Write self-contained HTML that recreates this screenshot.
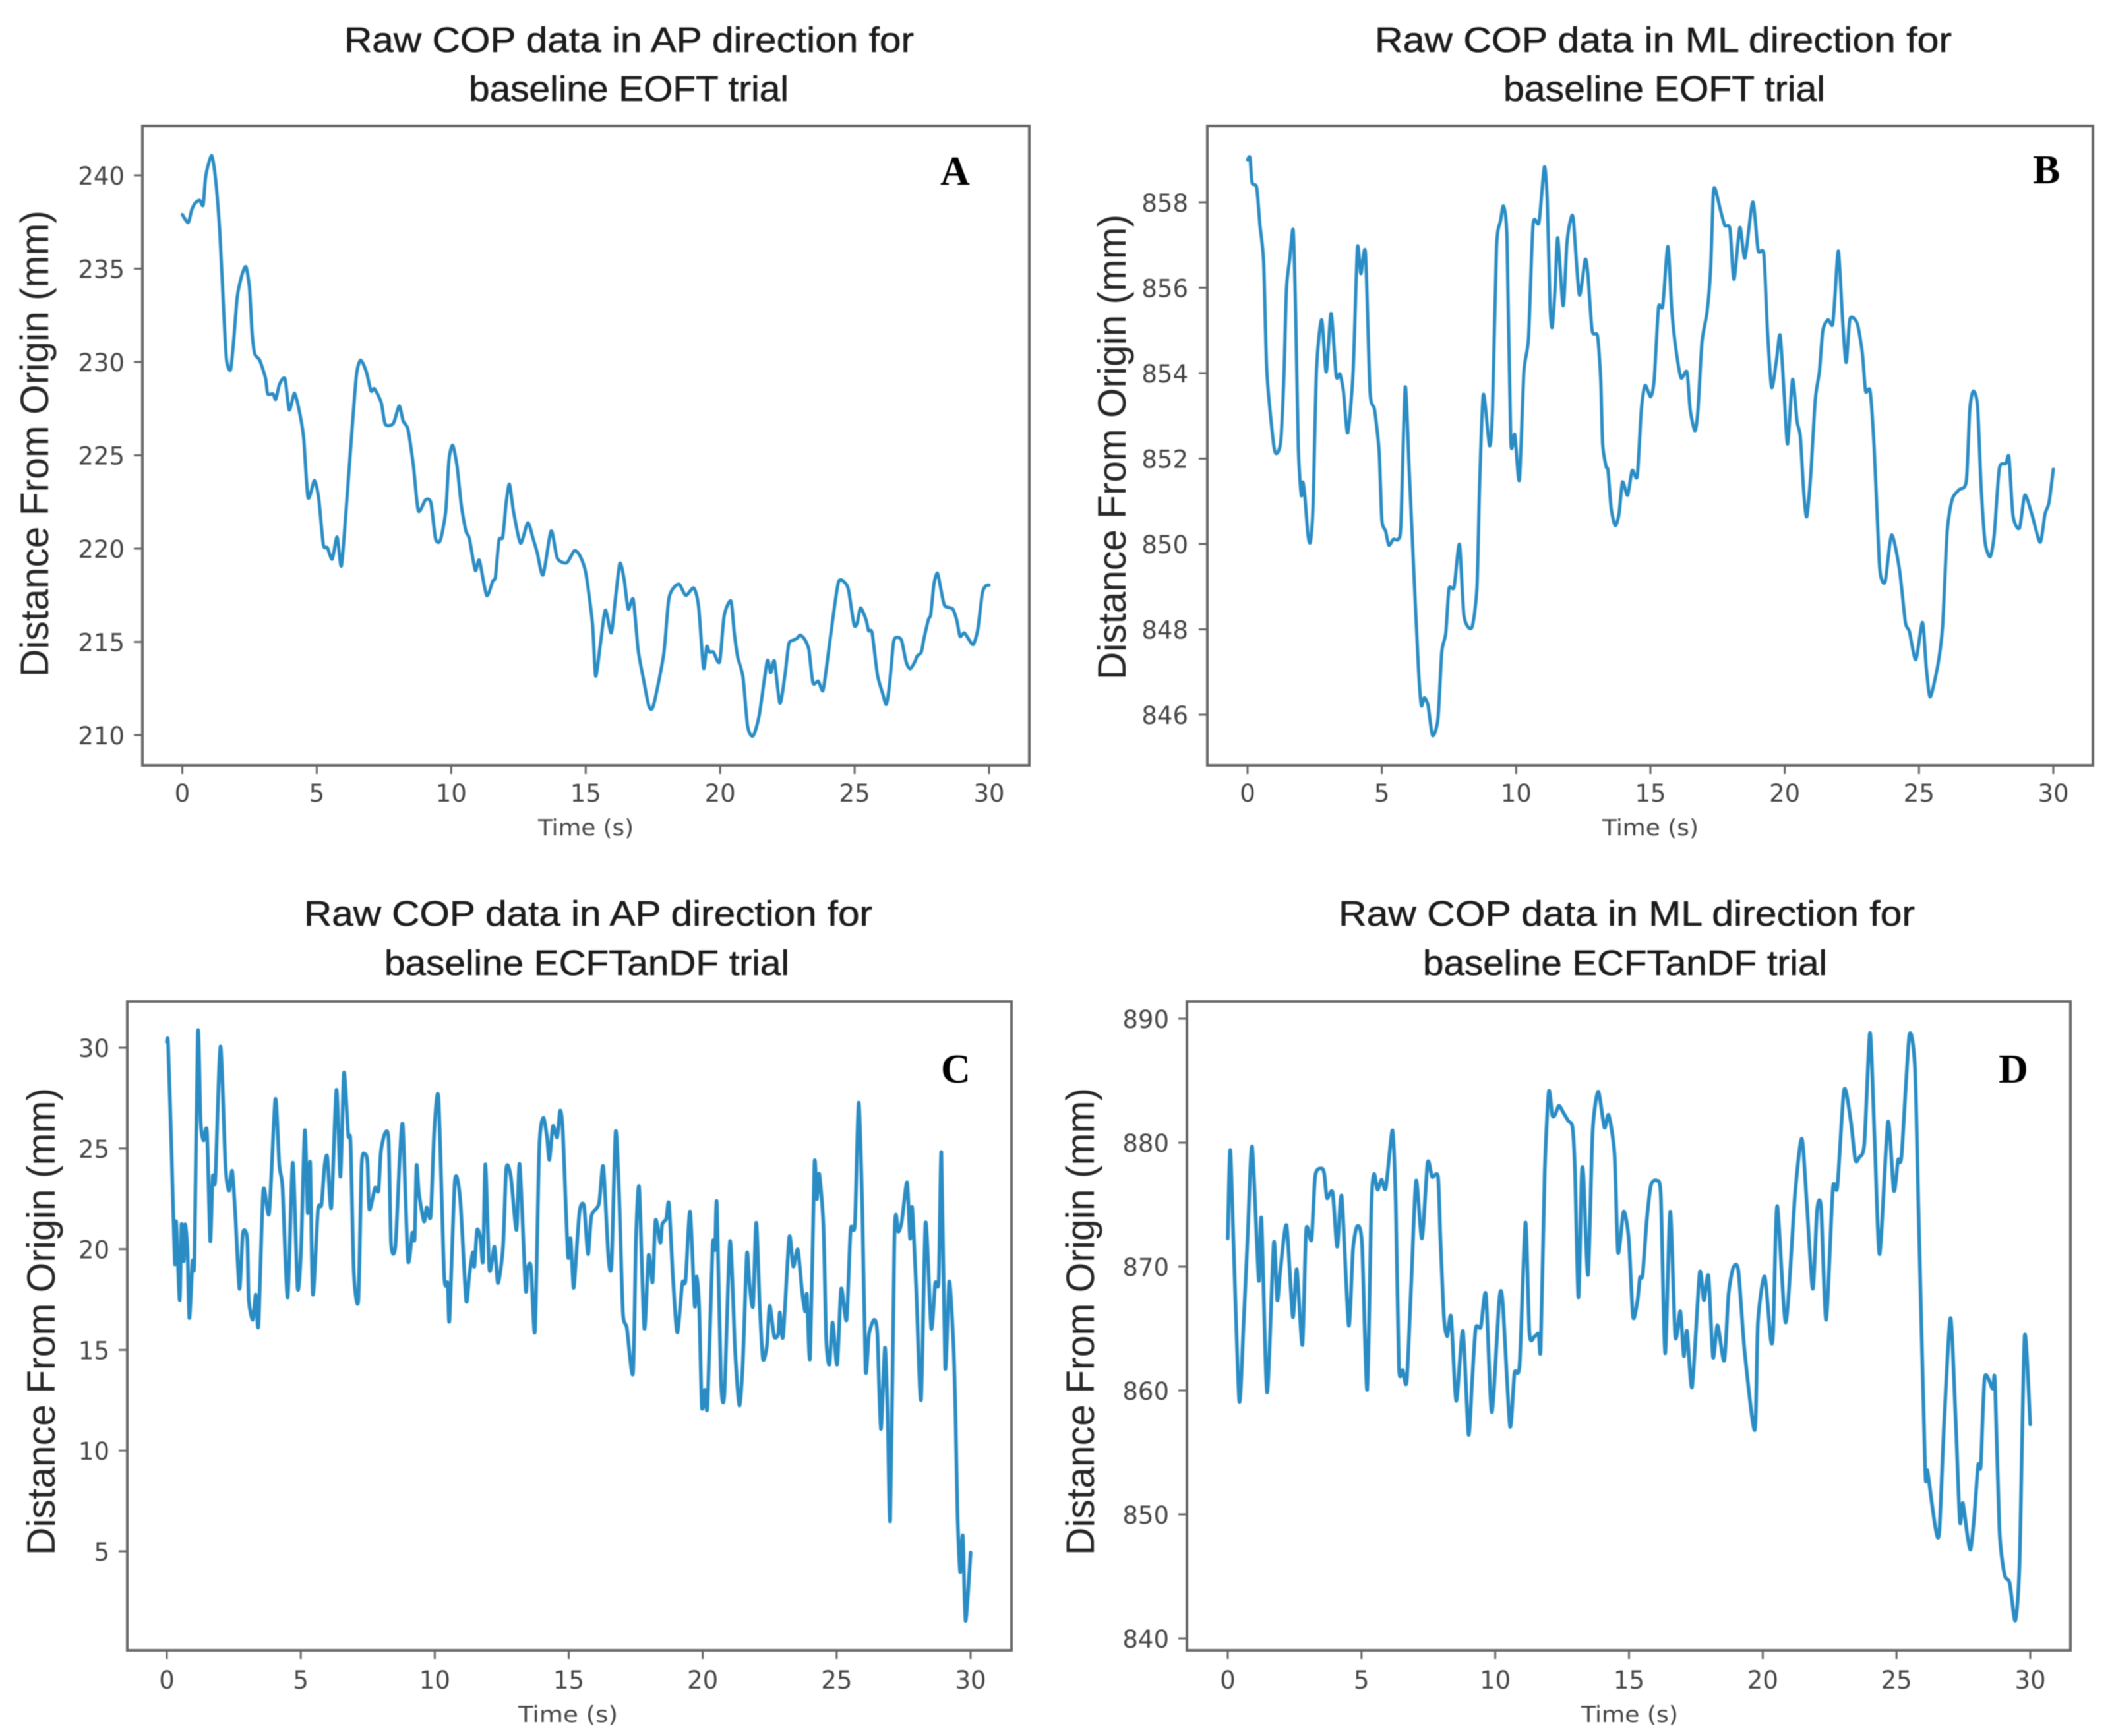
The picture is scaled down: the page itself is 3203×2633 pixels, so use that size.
<!DOCTYPE html>
<html lang="en">
<head>
<meta charset="utf-8">
<title>Raw COP data figure</title>
<style>
html,body{margin:0;padding:0;background:#fff;}
svg{display:block;filter:blur(0.9px);}
.title{font-family:"Liberation Sans",sans-serif;font-size:54px;fill:#1c1c1c;stroke:#1c1c1c;stroke-width:0.6px;}
.ylab{font-family:"Liberation Sans",sans-serif;font-size:60px;fill:#262626;}
.xlab{font-family:"DejaVu Sans",sans-serif;font-size:34px;fill:#444;}
.tick{font-family:"DejaVu Sans",sans-serif;font-size:37px;fill:#444;}
.letter{font-family:"Liberation Serif",serif;font-size:62px;font-weight:bold;fill:#000;}
</style>
</head>
<body>
<svg id="figure" xmlns="http://www.w3.org/2000/svg" width="3203" height="2633" viewBox="0 0 3203 2633">
<rect x="0" y="0" width="3203" height="2633" fill="#ffffff"/>

<g>
<text class="title" x="522" y="79" textLength="864" lengthAdjust="spacingAndGlyphs">Raw COP data in AP direction for</text>
<text class="title" x="711" y="153" textLength="485" lengthAdjust="spacingAndGlyphs">baseline EOFT trial</text>
<text class="ylab" transform="translate(73,1027) rotate(-90)" textLength="708" lengthAdjust="spacingAndGlyphs">Distance From Origin (mm)</text>
<text class="xlab" x="816" y="1267" textLength="145" lengthAdjust="spacingAndGlyphs">Time (s)</text>
<text class="letter" x="1426" y="280">A</text>
</g>

<g>
<text class="title" x="2085" y="79" textLength="875" lengthAdjust="spacingAndGlyphs">Raw COP data in ML direction for</text>
<text class="title" x="2280" y="153" textLength="488" lengthAdjust="spacingAndGlyphs">baseline EOFT trial</text>
<text class="ylab" transform="translate(1707,1031) rotate(-90)" textLength="706" lengthAdjust="spacingAndGlyphs">Distance From Origin (mm)</text>
<text class="xlab" x="2430" y="1267" textLength="146" lengthAdjust="spacingAndGlyphs">Time (s)</text>
<text class="letter" x="3083" y="278">B</text>
</g>

<g>
<text class="title" x="461" y="1404" textLength="862" lengthAdjust="spacingAndGlyphs">Raw COP data in AP direction for</text>
<text class="title" x="583" y="1479" textLength="614" lengthAdjust="spacingAndGlyphs">baseline ECFTanDF trial</text>
<text class="ylab" transform="translate(83,2359) rotate(-90)" textLength="709" lengthAdjust="spacingAndGlyphs">Distance From Origin (mm)</text>
<text class="xlab" x="786" y="2612" textLength="151" lengthAdjust="spacingAndGlyphs">Time (s)</text>
<text class="letter" x="1427" y="1642">C</text>
</g>

<g>
<text class="title" x="2030" y="1404" textLength="874" lengthAdjust="spacingAndGlyphs">Raw COP data in ML direction for</text>
<text class="title" x="2158" y="1479" textLength="613" lengthAdjust="spacingAndGlyphs">baseline ECFTanDF trial</text>
<text class="ylab" transform="translate(1659,2359) rotate(-90)" textLength="709" lengthAdjust="spacingAndGlyphs">Distance From Origin (mm)</text>
<text class="xlab" x="2398" y="2612" textLength="147" lengthAdjust="spacingAndGlyphs">Time (s)</text>
<text class="letter" x="3031" y="1642">D</text>
</g>
</svg>

<script>
var xTickValues = [0,5,10,15,20,25,30];
var yTicksA = [210,215,220,225,230,235,240];
var yTicksB = [846,848,850,852,854,856,858];
var yTicksC = [5,10,15,20,25,30];
var yTicksD = [840,850,860,870,880,890];

var timeA = [0,.215,.345,.475,.645,.775,.875,1.095,1.245,1.395,1.545,1.645,1.795,1.915,2.045,2.215,2.365,2.495,2.595,2.695,2.875,3.095,3.175,3.375,3.475,3.615,3.815,3.975,4.175,4.375,4.515,4.675,4.915,5.075,5.245,5.395,5.575,5.755,5.915,6.095,6.295,6.475,6.635,6.845,7.015,7.145,7.395,7.545,7.845,8.065,8.215,8.395,8.595,8.775,9.045,9.245,9.415,9.595,9.795,9.915,10.055,10.215,10.375,10.545,10.675,10.895,11.045,11.315,11.545,11.645,11.775,11.915,12.045,12.165,12.315,12.575,12.845,13.045,13.195,13.415,13.715,13.945,14.295,14.575,14.775,15.0,15.25,15.37,15.55,15.73,15.95,16.1,16.27,16.43,16.58,16.77,16.95,17.15,17.35,17.52,17.9,18.1,18.45,18.72,19.02,19.2,19.38,19.5,19.6,19.75,19.98,20.15,20.4,20.52,20.65,20.85,21.02,21.22,21.45,21.75,21.88,22.02,22.22,22.4,22.55,22.7,22.85,22.98,23.15,23.3,23.45,23.65,23.82,23.95,24.15,24.4,24.65,24.78,24.98,25.1,25.22,25.42,25.52,25.65,25.85,26.05,26.18,26.3,26.45,26.6,26.75,26.92,27.07,27.25,27.32,27.48,27.58,27.75,27.83,27.95,28.08,28.22,28.35,28.65,28.8,28.92,29.08,29.28,29.42,29.58,29.75,29.88,30];
var copA = [237.9,237.47,238.13,238.51,238.66,238.41,240.0,241.06,239.68,236.92,232.54,230.1,229.59,231.24,233.51,234.65,235.1,234.0,231.57,230.43,230.1,229.13,228.3,228.29,228.0,228.8,229.1,227.43,228.32,227.19,225.89,222.73,223.65,222.64,220.21,220.05,219.43,220.62,219.07,222.16,226.05,229.3,230.1,229.46,228.45,228.56,227.83,226.67,226.7,227.64,226.83,226.37,224.43,222.03,222.61,222.45,220.53,220.45,222.0,224.75,225.53,224.43,222.32,220.94,220.53,218.83,219.37,217.49,218.26,218.5,220.45,220.62,222.48,223.45,222.0,220.29,221.38,220.53,219.8,218.59,220.94,219.48,219.24,219.88,219.64,218.71,216.03,213.17,214.93,216.7,215.48,217.25,219.2,218.34,216.76,217.27,214.57,212.99,211.55,211.59,214.33,217.37,218.1,217.49,217.88,216.88,213.6,214.75,214.45,214.45,213.94,216.4,217.19,215.54,214.2,213.11,210.49,209.95,211.04,213.96,213.35,213.96,211.71,213.11,214.87,215.08,215.18,215.36,215.12,214.57,212.8,212.89,212.38,213.6,215.79,218.2,218.16,217.73,215.91,216.03,216.82,216.21,215.6,215.48,213.23,212.2,211.65,212.74,215.0,215.24,215.06,213.9,213.56,213.96,214.23,214.45,215.18,216.21,216.46,218.1,218.68,217.73,216.94,216.76,216.15,215.3,215.48,215.06,214.87,215.66,217.61,218.0,218.04];

var timeB = [0,.09,.17,.34,.46,.6,.72,.97,1.09,1.24,1.36,1.45,1.57,1.7,1.79,1.89,2.0,2.06,2.13,2.25,2.34,2.44,2.57,2.76,2.93,3.11,3.3,3.44,3.57,3.73,3.93,4.09,4.22,4.39,4.56,4.73,4.9,5.0,5.14,5.26,5.43,5.61,5.71,5.87,6.02,6.16,6.36,6.47,6.58,6.72,6.89,7.09,7.23,7.38,7.5,7.69,7.89,8.06,8.35,8.54,8.64,8.78,9.01,9.12,9.27,9.42,9.53,9.66,9.8,9.95,10.12,10.29,10.46,10.63,10.85,11.05,11.16,11.26,11.34,11.45,11.55,11.75,11.89,12.02,12.13,12.35,12.57,12.67,12.83,13.03,13.15,13.22,13.35,13.42,13.54,13.69,13.83,13.96,14.15,14.32,14.51,14.66,14.8,15.01,15.14,15.3,15.46,15.65,15.8,15.95,16.14,16.36,16.48,16.66,16.77,16.92,17.11,17.24,17.34,17.42,17.6,17.77,17.96,18.11,18.33,18.52,18.81,19.01,19.22,19.35,19.51,19.69,19.83,19.98,20.11,20.29,20.46,20.58,20.71,20.82,20.97,21.14,21.29,21.42,21.61,21.78,21.87,22.0,22.16,22.29,22.43,22.7,22.89,23.01,23.18,23.33,23.52,23.62,23.75,23.98,24.27,24.49,24.64,24.88,25.13,25.27,25.42,25.71,25.88,26.05,26.24,26.49,26.76,26.89,27.02,27.18,27.31,27.46,27.65,27.8,27.99,28.23,28.35,28.5,28.74,28.94,29.2,29.51,29.69,29.84,30];
var copB = [859.0,859.05,858.46,858.35,857.48,856.6,854.03,852.34,852.12,852.43,854.03,855.98,856.68,857.35,855.44,852.25,851.14,851.45,851.14,850.21,850.05,850.92,854.11,855.25,854.03,855.4,853.94,853.98,853.58,852.6,854.03,856.93,856.33,856.82,853.58,853.14,852.16,850.57,850.3,849.97,850.11,850.11,850.48,853.67,851.72,849.77,847.11,846.22,846.4,846.22,845.51,845.91,847.46,847.91,848.95,848.99,849.99,848.31,848.04,848.97,851.37,853.5,852.3,853.14,856.95,857.57,857.91,857.13,852.43,852.56,851.5,854.03,854.82,857.48,857.53,858.83,858.01,855.62,855.07,855.98,857.17,855.58,857.04,857.57,857.6,855.84,856.66,856.33,855.0,854.87,853.85,852.34,851.81,851.72,850.83,850.43,850.7,851.45,851.14,851.72,851.59,853.14,853.71,853.45,853.85,855.53,855.58,856.97,855.44,854.56,853.89,854.03,853.14,852.65,853.14,854.73,855.44,856.42,858.19,858.3,857.84,857.46,857.38,856.2,857.41,856.7,858.01,856.88,856.79,855.09,853.67,854.29,854.89,853.49,852.34,853.85,852.87,852.52,851.19,850.64,851.63,853.4,854.03,855.0,855.25,855.13,855.8,856.86,855.18,854.25,855.27,855.16,854.47,853.58,853.58,852.25,849.59,849.15,849.15,850.21,849.41,848.17,847.95,847.29,848.16,847.11,846.42,847.2,848.09,850.3,851.05,851.27,851.47,853.14,853.58,853.23,851.37,850.04,849.7,850.21,851.76,851.88,852.03,850.66,850.37,851.14,850.7,850.04,850.7,850.97,851.75];

var timeC = [0,.05,.18,.3,.35,.48,.55,.63,.68,.77,.84,.96,1.03,1.16,1.26,1.37,1.5,1.62,1.71,1.81,2.0,2.19,2.32,2.44,2.56,2.71,2.84,3.0,3.06,3.21,3.32,3.42,3.6,3.82,4.05,4.2,4.32,4.51,4.7,4.88,5.01,5.15,5.26,5.35,5.45,5.64,5.77,5.89,5.99,6.14,6.33,6.48,6.61,6.77,6.86,6.98,7.15,7.27,7.4,7.49,7.56,7.77,7.9,7.99,8.15,8.28,8.37,8.53,8.69,8.81,9.0,9.16,9.25,9.32,9.41,9.6,9.7,9.85,9.98,10.14,10.35,10.48,10.55,10.75,10.95,11.17,11.29,11.42,11.48,11.58,11.71,11.8,11.89,12.04,12.23,12.36,12.55,12.67,12.84,13.05,13.17,13.39,13.46,13.59,13.74,13.9,14.05,14.19,14.28,14.41,14.57,14.68,14.78,14.97,15.07,15.18,15.28,15.41,15.57,15.72,15.85,16.13,16.29,16.48,16.6,16.75,16.88,17.02,17.17,17.4,17.51,17.63,17.82,17.98,18.13,18.24,18.42,18.49,18.64,18.74,18.89,19.05,19.24,19.36,19.53,19.7,19.78,19.87,19.97,20.08,20.18,20.37,20.46,20.53,20.68,20.81,21.02,21.21,21.37,21.5,21.65,21.75,21.88,22.0,22.13,22.25,22.4,22.5,22.67,22.82,22.88,23.0,23.23,23.38,23.55,23.7,23.82,23.89,24.01,24.17,24.26,24.35,24.51,24.61,24.73,24.85,25.02,25.17,25.37,25.52,25.68,25.82,25.96,26.08,26.21,26.4,26.52,26.65,26.8,26.9,27.0,27.15,27.21,27.3,27.43,27.63,27.74,27.82,27.97,28.15,28.32,28.53,28.68,28.81,28.91,29.05,29.2,29.35,29.44,29.51,29.61,29.71,29.81,30];
var copC = [30.28,30.14,24.7,19.28,21.37,17.47,21.23,19.4,21.23,20.0,16.58,19.4,19.48,30.78,26.38,25.4,25.82,20.4,23.6,23.46,30.06,24.15,22.9,23.88,21.65,18.03,20.8,20.53,17.47,16.5,17.75,16.22,22.9,21.79,27.44,24.15,23.04,17.61,24.29,18.08,19.98,25.9,21.79,24.29,17.75,21.93,22.2,24.15,24.57,22.07,27.91,23.6,28.75,25.68,25.27,18.86,17.47,24.15,24.71,24.29,21.98,23.04,22.9,24.85,25.77,25.4,20.26,20.12,24.43,26.1,19.48,20.81,20.53,24.15,22.76,21.37,22.07,21.65,25.82,27.49,18.73,18.31,16.5,23.37,22.48,17.47,18.73,19.84,19.14,20.95,20.53,19.42,24.21,19.0,20.12,18.31,20.12,24.01,23.6,20.95,24.21,18.03,19.0,19.14,15.94,24.99,26.52,25.55,24.43,26.1,25.55,26.88,25.82,19.7,20.53,18.08,19.7,21.93,22.15,19.75,21.65,22.26,24.1,19.64,19.28,25.82,22.76,16.91,16.08,13.85,20.53,23.04,16.08,19.7,18.36,21.43,20.31,21.23,21.51,22.26,18.59,15.86,18.31,18.45,21.87,17.19,18.64,17.05,12.18,13.02,12.24,20.12,19.98,22.26,13.57,12.8,20.4,14.97,12.24,14.41,19.76,18.25,17.19,21.31,17.19,14.55,15.25,17.19,15.66,15.8,16.86,15.66,20.59,19.14,19.98,18.03,16.91,17.75,14.63,24.21,22.48,23.74,21.09,15.52,14.27,16.36,14.27,18.03,16.5,20.95,21.23,27.27,21.93,13.99,15.8,16.5,15.8,11.07,15.11,11.9,6.6,19.98,21.7,20.87,21.37,23.32,20.53,22.07,18.03,12.52,21.31,16.08,18.31,18.45,24.79,14.13,18.39,15.52,11.63,6.89,3.97,5.78,1.55,4.94];

var timeD = [0,.09,.21,.43,.59,.74,.91,1.16,1.26,1.47,1.72,1.85,1.97,2.2,2.43,2.58,2.79,2.93,3.13,3.27,3.51,3.61,3.71,3.92,4.09,4.26,4.52,4.68,4.84,5.02,5.21,5.37,5.47,5.6,5.75,5.91,6.16,6.28,6.4,6.54,6.69,6.86,7.04,7.26,7.47,7.64,7.86,7.95,8.08,8.2,8.35,8.54,8.79,9.0,9.14,9.27,9.46,9.65,9.87,10.15,10.28,10.55,10.72,10.91,11.13,11.28,11.47,11.62,11.7,11.85,12.0,12.13,12.23,12.38,12.54,12.73,12.89,12.98,13.11,13.23,13.3,13.47,13.64,13.85,14.08,14.24,14.46,14.59,14.8,14.99,15.15,15.32,15.41,15.51,15.66,15.82,16.04,16.19,16.35,16.54,16.73,16.92,17.05,17.17,17.36,17.64,17.8,17.97,18.14,18.31,18.56,18.72,18.9,19.09,19.32,19.7,19.82,20.07,20.3,20.39,20.54,20.86,21.21,21.46,21.65,21.87,22.03,22.18,22.37,22.62,22.79,23.04,23.29,23.46,23.61,23.8,24.01,24.18,24.37,24.68,24.9,25.06,25.19,25.48,25.69,25.82,26.07,26.16,26.45,26.6,26.79,27.02,27.21,27.37,27.48,27.65,27.77,27.9,28.05,28.15,28.3,28.59,28.68,28.85,29.04,29.23,29.44,29.6,29.79,30];
var copD = [872.27,879.41,872.27,859.16,865.26,872.27,879.68,868.88,873.85,859.84,871.91,867.3,869.78,873.31,865.94,869.78,863.68,872.95,872.18,877.33,877.92,877.47,875.52,875.98,871.59,875.66,865.26,871.37,873.26,871.82,860.06,874.98,877.47,876.2,877.02,876.34,880.99,874.98,861.87,861.65,860.74,868.65,876.93,872.27,878.37,877.24,877.24,872.27,865.94,864.36,865.94,859.16,864.81,856.45,860.97,865.04,865.13,867.75,858.25,867.3,867.07,857.13,861.42,862.1,873.54,864.58,864.36,864.58,863.45,877.69,884.11,882.22,882.22,882.98,882.44,881.76,881.22,877.69,867.52,877.24,877.24,869.33,880.86,884.11,881.22,882.22,879.05,871.14,874.44,872.27,865.94,867.3,869.1,869.33,873.63,876.56,876.93,875.66,863.0,874.44,864.36,866.39,862.78,864.81,860.29,869.47,867.3,869.24,862.69,865.26,862.41,867.75,869.92,869.65,863.23,856.81,865.49,869.2,864.13,864.81,874.89,865.49,875.89,880.32,874.98,868.2,874.53,874.76,865.71,876.25,876.43,884.25,881.76,878.6,878.82,879.95,888.86,880.41,871.0,881.67,876.11,878.6,878.96,888.63,886.06,874.98,853.73,853.51,849.0,848.63,857.8,865.85,857.8,849.44,850.93,848.3,847.18,849.67,853.96,853.96,861.06,860.15,860.74,848.76,845.14,844.47,841.44,846.05,864.36,857.26];

var NS = 'http://www.w3.org/2000/svg';
var fig = document.getElementById('figure');

function make(tag, attrs, parent) {
  var el = document.createElementNS(NS, tag);
  for (var k in attrs) { el.setAttribute(k, attrs[k]); }
  parent.appendChild(el);
  return el;
}

function smoothPath(xs, ys) {
  var d = 'M' + xs[0].toFixed(1) + ' ' + ys[0].toFixed(1);
  var n = xs.length;
  var k = 0.12;
  for (var i = 0; i < n - 1; i++) {
    var a = Math.max(i - 1, 0);
    var b = Math.min(i + 2, n - 1);
    var c1x = xs[i] + (xs[i + 1] - xs[a]) * k;
    var c1y = ys[i] + (ys[i + 1] - ys[a]) * k;
    var c2x = xs[i + 1] - (xs[b] - xs[i]) * k;
    var c2y = ys[i + 1] - (ys[b] - ys[i]) * k;
    d += 'C' + c1x.toFixed(1) + ' ' + c1y.toFixed(1) + ' ' + c2x.toFixed(1) + ' ' + c2y.toFixed(1) + ' ' + xs[i + 1].toFixed(1) + ' ' + ys[i + 1].toFixed(1);
  }
  return d;
}

function drawPanel(p, times, values, yTicks) {
  function xScale(t) { return p.x0 + t * (p.x30 - p.x0) / 30; }
  function yScale(v) { return p.ya + (v - p.va) * (p.yb - p.ya) / (p.vb - p.va); }

  var g = make('g', {}, fig);
  
  

  var line = make('path', {d: smoothPath(times.map(xScale), values.map(yScale)), fill: 'none', stroke: '#2a8cc4', 'stroke-width': p.lw, 'stroke-linejoin': 'round', 'stroke-linecap': 'round'}, g);
  
  

  var frame = make('rect', {x: p.left, y: p.top, width: p.right - p.left, height: p.bottom - p.top, fill: 'none', stroke: '#666666', 'stroke-width': 4}, g);
  
  

  xTickValues.forEach(function (t) {
    var x = xScale(t);
    var tm = make('line', {x1: x, x2: x, y1: p.bottom, y2: p.bottom + 13, stroke: '#666666', 'stroke-width': 3}, g);
    
    
    var lb = make('text', {x: x, y: p.xLabelY, 'text-anchor': 'middle', 'class': 'tick'}, g);
    
    
    lb.textContent = String(t);
  });

  yTicks.forEach(function (v) {
    var y = yScale(v);
    var tm = make('line', {x1: p.left - 13, x2: p.left, y1: y, y2: y, stroke: '#666666', 'stroke-width': 3}, g);
    
    
    var lb = make('text', {x: p.yLabelX, y: y + 14, 'text-anchor': 'end', 'class': 'tick'}, g);
    
    
    lb.textContent = String(v);
  });
}

drawPanel({id: 'a', left: 216, right: 1561, top: 191, bottom: 1161, x0: 276.5, x30: 1500, va: 240, ya: 266, vb: 210, yb: 1115, xLabelY: 1216, yLabelX: 189, lw: 5}, timeA, copA, yTicksA);
drawPanel({id: 'b', left: 1831, right: 3174, top: 191, bottom: 1161, x0: 1892, x30: 3114, va: 858, ya: 307, vb: 846, yb: 1084, xLabelY: 1216, yLabelX: 1802, lw: 5}, timeB, copB, yTicksB);
drawPanel({id: 'c', left: 193, right: 1534, top: 1519, bottom: 2503, x0: 253, x30: 1472, va: 30, ya: 1589, vb: 5, yb: 2353, xLabelY: 2561, yLabelX: 166, lw: 5.5}, timeC, copC, yTicksC);
drawPanel({id: 'd', left: 1800, right: 3140, top: 1519, bottom: 2503, x0: 1862, x30: 3079, va: 890, ya: 1545, vb: 840, yb: 2485, xLabelY: 2561, yLabelX: 1773, lw: 5.5}, timeD, copD, yTicksD);
</script>
</body>
</html>
